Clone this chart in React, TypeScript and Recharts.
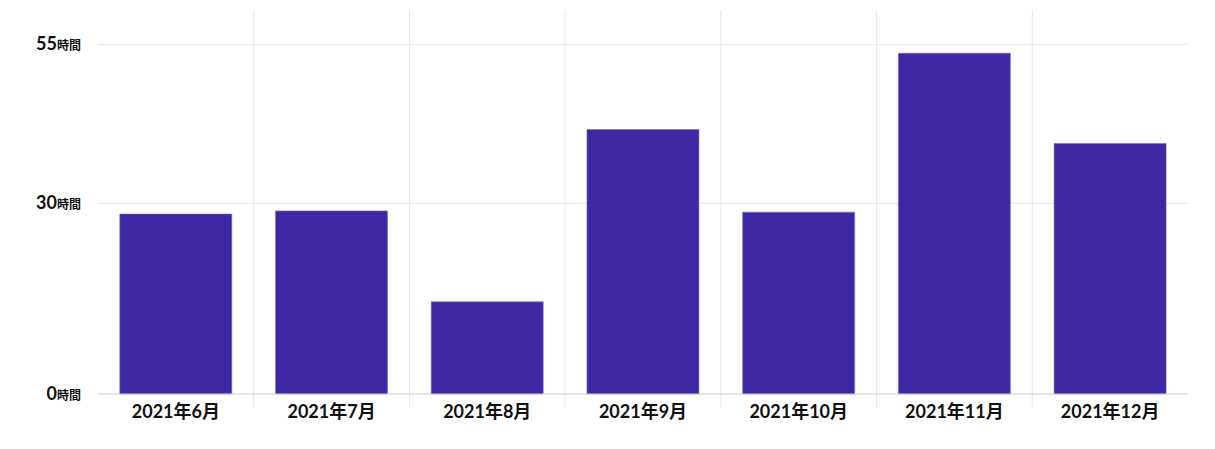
import React from 'react';
import { BarChart, Bar, XAxis, YAxis, CartesianGrid } from 'recharts';

const months = ['2021年6月', '2021年7月', '2021年8月', '2021年9月', '2021年10月', '2021年11月', '2021年12月'];
const hours = [28.3, 28.8, 14.5, 41.6, 28.6, 53.6, 39.4];
const yTicks = [0, 30, 55];
const yMax = 60.4;

const data = months.map((month, i) => ({ month, hours: hours[i] }));

const FONT = "Lato, 'Noto Sans CJK JP', sans-serif";

const YTick = ({ x, y, payload }: any) => (
  <text x={x} y={y + 6} textAnchor="end" fontFamily={FONT} fontWeight="bold" fill="#111">
    <tspan fontSize={18}>{payload.value}</tspan>
    <tspan fontSize={12}>時間</tspan>
  </text>
);

const XTick = ({ x, y, payload }: any) => (
  <text x={x} y={y + 16} textAnchor="middle" fontFamily={FONT} fontWeight="bold" fontSize={18} fill="#111">
    {payload.value}
  </text>
);

// grid lines sit on the category boundaries, not on the band centres
const vLines = ({ offset }: any) => {
  const step = offset.width / months.length;
  return months.slice(1).map((_, i) => offset.left + step * (i + 1));
};

// only the 30 and 55 lines, the 0 line is the axis itself
const hLines = ({ offset }: any) =>
  yTicks.filter((t) => t > 0).map((t) => offset.top + offset.height * (1 - t / yMax));

export default function App() {
  return (
    <div style={{ position: 'absolute', left: 0, top: 0 }}>
      <BarChart width={1215} height={449} data={data}
                margin={{ top: 10, right: 27, left: 0, bottom: 25 }}
                barCategoryGap="14%">
        <CartesianGrid stroke="#e8e8e8" y={10} height={397}
                       verticalCoordinatesGenerator={vLines}
                       horizontalCoordinatesGenerator={hLines} />
        <XAxis dataKey="month" height={30} tickLine={false} stroke="#cccccc" tick={<XTick />} interval={0} />
        <YAxis width={98} domain={[0, yMax]} ticks={yTicks} axisLine={false} tickLine={false}
               tickMargin={11} tick={<YTick />} />
        <Bar dataKey="hours" fill="#3f27a3" stroke="#7a68c8" strokeWidth={0.6} isAnimationActive={false} />
      </BarChart>
    </div>
  );
}
